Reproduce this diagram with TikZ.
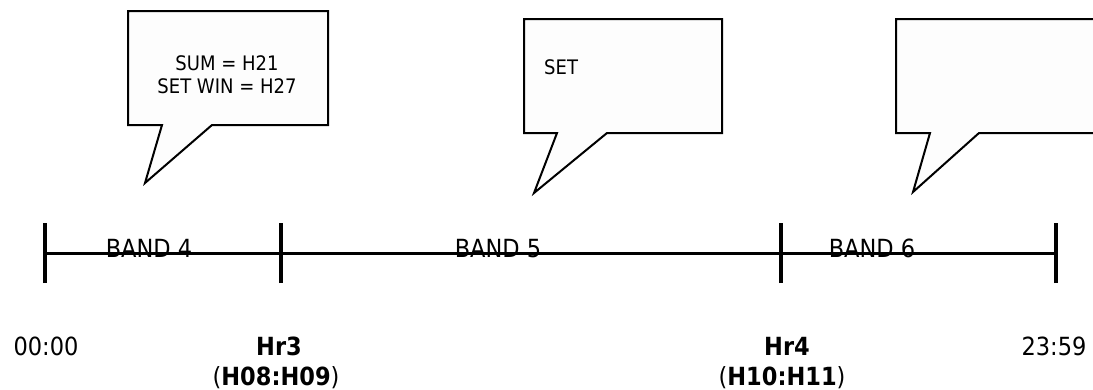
\documentclass[tikz,border=0pt]{standalone}
\usepackage{fontspec}
\setmainfont{DejaVu Sans}[FakeStretch=0.9]
\begin{document}
\begin{tikzpicture}[x=1pt,y=-1pt,
  bubble/.style={draw=black,line width=2pt,fill={rgb,255:red,253;green,253;blue,253},line join=miter},
  tl/.style={draw=black,line width=3pt},
  tick/.style={draw=black,line width=3.5pt},
  ctext/.style={font=\fontsize{20}{23}\selectfont,inner sep=0pt,anchor=base},
  btext/.style={font=\fontsize{25}{30}\selectfont,inner sep=0pt,anchor=base},
  lab/.style={font=\fontsize{25}{30}\selectfont,inner sep=0pt,anchor=base}]
\clip (0,0) rectangle (1093,389);
\fill[white] (0,0) rectangle (1093,389);
% callouts
\draw[bubble] (128,11) -- (328,11) -- (328,125) -- (212,125) -- (145,183) -- (162,125) -- (128,125) -- cycle;
\draw[bubble] (524,19) -- (722,19) -- (722,133) -- (607,133) -- (534,193) -- (557,133) -- (524,133) -- cycle;
\draw[bubble] (896,19) -- (1110,19) -- (1110,133) -- (979,133) -- (913,192) -- (930,133) -- (896,133) -- cycle;
\node[ctext] (c1a) at (227,70) {SUM = H21};
\node[ctext] (c1b) at (227,93) {SET WIN = H27};
\node[ctext,anchor=base west] (c2) at (544,74) {SET};
% timeline
\coordinate (t0) at (45,253);
\coordinate (t1) at (281,253);
\coordinate (t2) at (781,253);
\coordinate (t3) at (1056,253);
\draw[tl] (t0) -- (t3);
\foreach \t in {t0,t1,t2,t3}{
  \draw[tick] ([yshift=-30pt]\t) -- ([yshift=30pt]\t);
}
\node[btext] (b4) at (149,257) {BAND 4};
\node[btext] (b5) at (498,257) {BAND 5};
\node[btext] (b6) at (872,257) {BAND 6};
% labels
\node[lab] (l0) at (46,355) {00:00};
\node[lab] (l1) at (279,355) {\textbf{Hr3}};
\node[lab] (l1b) at (276,385) {(\textbf{H08:H09})};
\node[lab] (l2) at (787,355) {\textbf{Hr4}};
\node[lab] (l2b) at (782,385) {(\textbf{H10:H11})};
\node[lab] (l3) at (1054,355) {23:59};
\end{tikzpicture}
\end{document}
